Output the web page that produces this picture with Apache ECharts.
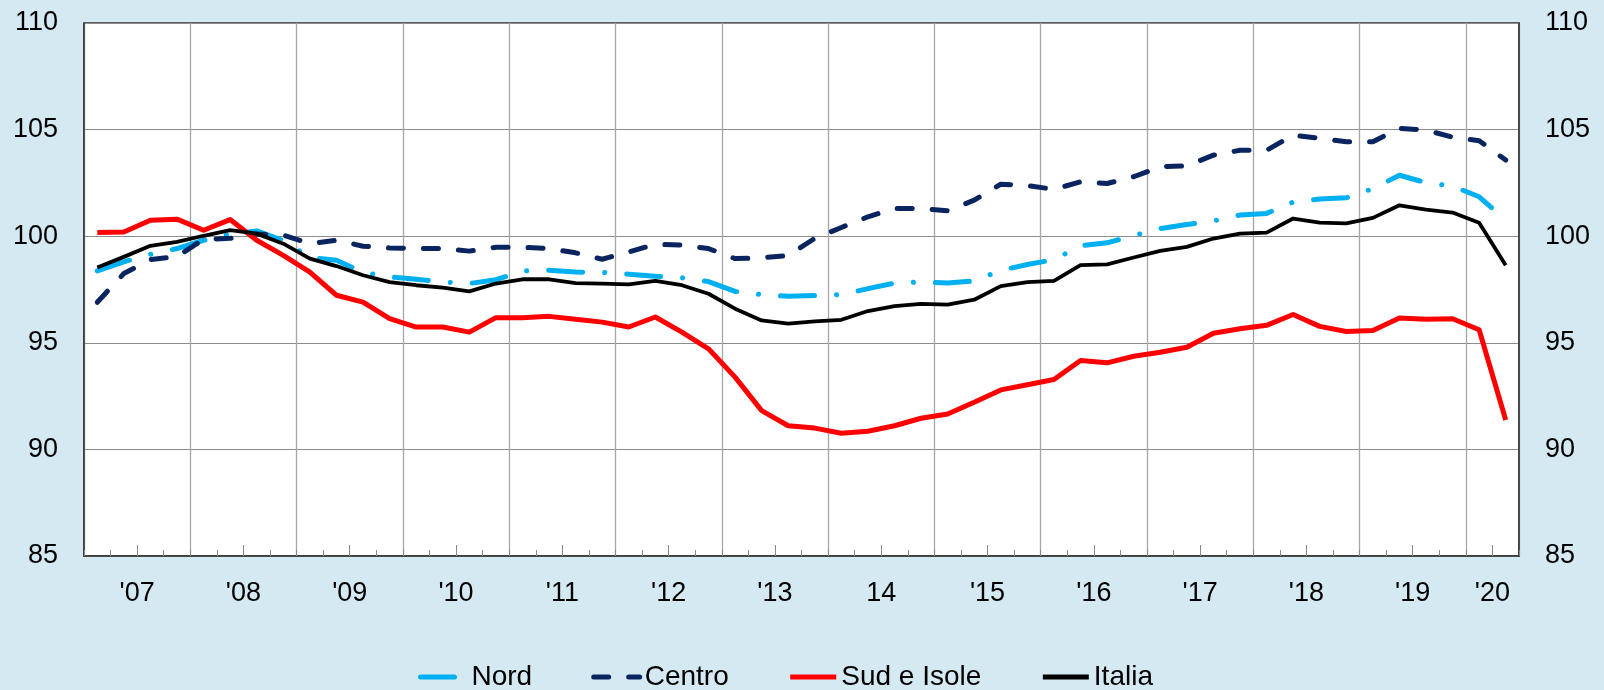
<!DOCTYPE html>
<html>
<head>
<meta charset="utf-8">
<script src="https://cdn.jsdelivr.net/npm/echarts@6/dist/echarts.min.js"></script>
<style>
html,body{margin:0;padding:0;background:#d5e9f3;}
#c{width:1604px;height:690px;}
</style>
</head>
<body>
<div id="c"></div>
<script>
// Quarterly categories 2007 Q1 - 2020 Q2
const quarters = [
  '2007T1','2007T2','2007T3','2007T4','2008T1','2008T2','2008T3','2008T4',
  '2009T1','2009T2','2009T3','2009T4','2010T1','2010T2','2010T3','2010T4',
  '2011T1','2011T2','2011T3','2011T4','2012T1','2012T2','2012T3','2012T4',
  '2013T1','2013T2','2013T3','2013T4','2014T1','2014T2','2014T3','2014T4',
  '2015T1','2015T2','2015T3','2015T4','2016T1','2016T2','2016T3','2016T4',
  '2017T1','2017T2','2017T3','2017T4','2018T1','2018T2','2018T3','2018T4',
  '2019T1','2019T2','2019T3','2019T4','2020T1','2020T2'
];
// Year tick labels and number of quarters in each year
const yearLabels = ["'07","'08","'09","'10","'11","'12","'13","14","'15","'16","'17","'18","'19","'20"];
const quartersPerYear = [4,4,4,4,4,4,4,4,4,4,4,4,4,2];

const nord = [
  98.37, 98.8, 99.15, 99.42, 99.81, 100.1, 100.25, 99.8, 99.0, 98.87,
  98.3, 98.09, 97.98, 97.85, 97.78, 97.96, 98.37, 98.4, 98.32, 98.3,
  98.22, 98.12, 98.05, 97.87, 97.41, 97.26, 97.18, 97.22, 97.26, 97.54,
  97.8, 97.85, 97.8, 97.9, 98.4, 98.67, 98.9, 99.55, 99.69, 100.03,
  100.36, 100.55, 100.72, 100.99, 101.07, 101.6, 101.74, 101.8, 102.23, 102.86,
  102.51, 102.35, 101.85, 100.75
];
const centro = [
  96.9, 98.25, 98.9, 99.05, 99.85, 99.9, 100.1, 100.05, 99.65, 99.81,
  99.53, 99.45, 99.42, 99.42, 99.3, 99.48, 99.48, 99.42, 99.22, 98.92,
  99.26, 99.62, 99.58, 99.42, 98.95, 98.98, 99.1, 99.9, 100.41, 100.91,
  101.3, 101.3, 101.19, 101.69, 102.44, 102.37, 102.2, 102.55, 102.47, 102.79,
  103.26, 103.3, 103.8, 104.03, 104.03, 104.74, 104.59, 104.43, 104.43, 105.06,
  104.98, 104.64, 104.48, 103.57
];
const sud = [
  100.17, 100.2, 100.75, 100.8, 100.28, 100.78, 99.81, 99.1, 98.32, 97.23,
  96.91, 96.13, 95.74, 95.74, 95.5, 96.18, 96.18, 96.24, 96.1, 95.97,
  95.74, 96.21, 95.5, 94.72, 93.39, 91.82, 91.11, 91.0, 90.76, 90.85,
  91.11, 91.46, 91.66, 92.21, 92.79, 93.03, 93.28, 94.17, 94.06, 94.37,
  94.56, 94.79, 95.45, 95.66, 95.82, 96.33, 95.77, 95.53, 95.58, 96.16,
  96.1, 96.13, 95.61, 91.38
];
const italia = [
  98.53, 99.03, 99.55, 99.73, 100.02, 100.28, 100.12, 99.65, 98.95, 98.6,
  98.17, 97.85, 97.7, 97.59, 97.41, 97.78, 97.98, 97.98, 97.8, 97.78,
  97.74, 97.9, 97.7, 97.3, 96.6, 96.05, 95.9, 96.0, 96.08, 96.49,
  96.72, 96.83, 96.79, 97.02, 97.66, 97.85, 97.9, 98.64, 98.68, 99.0,
  99.31, 99.5, 99.89, 100.12, 100.17, 100.83, 100.64, 100.6, 100.86, 101.45,
  101.25, 101.11, 100.63, 98.64
];

// Boundary axis (one slot per quarter boundary) carrying year labels at year centres
const boundaryLabels = new Array(quarters.length + 1).fill('');
let start = 0;
yearLabels.forEach((lab, k) => {
  boundaryLabels[start + quartersPerYear[k] / 2] = lab;
  start += quartersPerYear[k];
});

const FONT = '"Liberation Sans", Arial, sans-serif';
const chart = echarts.init(document.getElementById('c'));
const isLabel = (i, v) => v !== '';

chart.setOption({
  backgroundColor: '#d5e9f3',
  animation: false,
  grid: {
    left: 84, right: 85, top: 23, bottom: 134,
    show: true, backgroundColor: '#ffffff', borderColor: '#333', borderWidth: 1.5
  },
  legend: {
    left: 413, top: 658,
    itemWidth: 46, itemHeight: 28, itemGap: 59,
    itemStyle: { opacity: 0 },
    lineStyle: { width: 5 },
    textStyle: { fontSize: 28, color: '#000', fontFamily: FONT },
    data: ['Nord', 'Centro', 'Sud e Isole', 'Italia']
  },
  xAxis: [
    {
      type: 'category', data: quarters, boundaryGap: true, position: 'bottom',
      axisLine: { show: true, lineStyle: { color: '#333', width: 1.5 } },
      axisTick: { show: true, inside: true, length: 6, interval: 0, lineStyle: { color: '#888' } },
      axisLabel: { show: false },
      splitLine: { show: true, interval: (i) => i % 4 === 0, lineStyle: { color: '#a6a6a6', width: 1.3 } }
    },
    {
      type: 'category', data: boundaryLabels, boundaryGap: false, position: 'bottom',
      axisLine: { show: false },
      axisTick: { show: true, inside: true, length: 11, interval: isLabel, lineStyle: { color: '#888' } },
      axisLabel: { show: true, interval: isLabel, margin: 24, fontSize: 27, color: '#000', fontFamily: FONT },
      splitLine: { show: false }
    }
  ],
  yAxis: [
    {
      type: 'value', min: 85, max: 110, interval: 5, position: 'left',
      axisLine: { show: true, lineStyle: { color: '#333', width: 1.5 } },
      axisTick: { show: false },
      axisLabel: { margin: 26, fontSize: 27, color: '#000', fontFamily: FONT },
      splitLine: { show: true, lineStyle: { color: '#8c8c8c', width: 1.2 } }
    },
    {
      type: 'value', min: 85, max: 110, interval: 5, position: 'right',
      axisLine: { show: true, lineStyle: { color: '#333', width: 1.5 } },
      axisTick: { show: false },
      axisLabel: { margin: 26, fontSize: 27, color: '#000', fontFamily: FONT },
      splitLine: { show: false }
    }
  ],
  series: [
    {
      name: 'Nord', type: 'line', data: nord, xAxisIndex: 0, yAxisIndex: 0,
      symbol: 'none', color: '#00b0f0',
      lineStyle: { color: '#00b0f0', width: 5, type: [34, 22, 0.1, 22], cap: 'round', join: 'round' }
    },
    {
      name: 'Centro', type: 'line', data: centro, xAxisIndex: 0, yAxisIndex: 0,
      symbol: 'none', color: '#0a2460',
      lineStyle: { color: '#0a2460', width: 5, type: [15, 20], cap: 'round', join: 'round' }
    },
    {
      name: 'Sud e Isole', type: 'line', data: sud, xAxisIndex: 0, yAxisIndex: 0,
      symbol: 'none', color: '#ff0000',
      lineStyle: { color: '#ff0000', width: 5, join: 'round' }
    },
    {
      name: 'Italia', type: 'line', data: italia, xAxisIndex: 0, yAxisIndex: 0,
      symbol: 'none', color: '#000000',
      lineStyle: { color: '#000000', width: 3.8, join: 'round' }
    }
  ]
});
</script>
</body>
</html>
